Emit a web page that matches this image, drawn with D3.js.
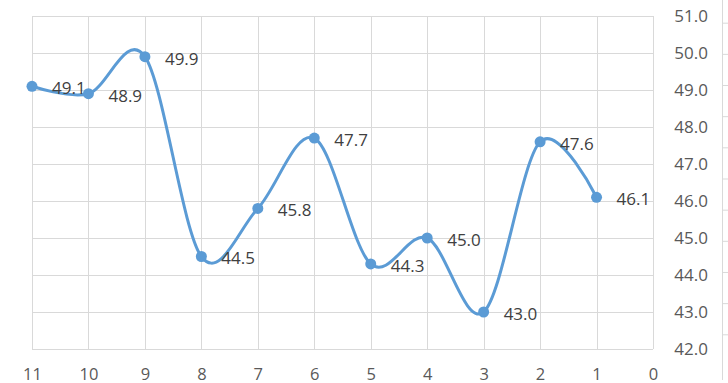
<!DOCTYPE html>
<html>
<head>
<meta charset="utf-8">
<script src="https://cdn.jsdelivr.net/npm/d3@7"></script>
<style>
  body { margin: 0; background: #fff; }
  svg { display: block; }
</style>
</head>
<body>
<svg id="chart"></svg>
<script>
// categories along the x axis (the last one carries no value)
const categories = ["11", "10", "9", "8", "7", "6", "5", "4", "3", "2", "1", "0"]
const values = [49.1, 48.9, 49.9, 44.5, 45.8, 47.7, 44.3, 45.0, 43.0, 47.6, 46.1]
const yTicks = [42, 43, 44, 45, 46, 47, 48, 49, 50, 51]
// ticks of the neighbouring (cut off) axis at the right edge
const sideTicks = [0, 1, 2, 3, 4, 5, 6, 7, 8, 9, 10]

const width = 728, height = 383
const margin = { top: 16, right: 75, bottom: 34, left: 32 }
const lineColor = "#5B9BD5"
const gridColor = "#d9d9d9"
const font = "'Open Sans', sans-serif"

const svg = d3.select("#chart")
    .attr("width", width)
    .attr("height", height)
    .attr("viewBox", `0 0 ${width} ${height}`)

const x = d3.scalePoint()
    .domain(categories)
    .range([margin.left, width - margin.right])
const y = d3.scaleLinear()
    .domain([42, 51])
    .range([height - margin.bottom, margin.top])

// gridlines
svg.append("g")
    .attr("stroke", gridColor)
    .attr("stroke-width", 1)
  .selectAll("line.v")
  .data(categories)
  .enter().append("line")
    .attr("x1", d => Math.round(x(d)) + 0.5)
    .attr("x2", d => Math.round(x(d)) + 0.5)
    .attr("y1", y(51))
    .attr("y2", y(42))

svg.append("g")
    .attr("stroke", gridColor)
    .attr("stroke-width", 1)
  .selectAll("line.h")
  .data(yTicks)
  .enter().append("line")
    .attr("x1", x("11"))
    .attr("x2", x("0"))
    .attr("y1", d => Math.round(y(d)) + 0.5)
    .attr("y2", d => Math.round(y(d)) + 0.5)

// right value axis (labels only)
svg.append("g")
    .attr("transform", `translate(${width - margin.right + 55},0)`)
    .call(d3.axisRight(y).tickValues(yTicks).tickFormat(d3.format(".1f")).tickSize(0))
    .call(g => g.select(".domain").remove())
    .call(g => g.selectAll("text")
        .attr("x", 0)
        .attr("text-anchor", "end")
        .attr("fill", "#595959")
        .style("font", `17px ${font}`))

// category axis (labels only)
svg.append("g")
    .attr("transform", `translate(0,${height - margin.bottom})`)
    .call(d3.axisBottom(x).tickSize(0))
    .call(g => g.select(".domain").remove())
    .call(g => g.selectAll("text")
        .attr("y", 31)
        .attr("dy", 0)
        .attr("fill", "#595959")
        .style("font", `16.5px ${font}`))

// neighbouring axis at the far right edge
const side = d3.scaleLinear().domain([0, 10]).range([22.7, 334.3])
svg.append("g")
    .attr("transform", "translate(722.5,0)")
    .call(d3.axisRight(side).tickValues(sideTicks).tickSize(6).tickFormat(""))
    .call(g => g.select(".domain").attr("d", `M0,0V${height - 3}`))
    .call(g => g.selectAll("line, path").attr("stroke", gridColor))

// the data line
const points = values.map((v, i) => ({ cat: categories[i], value: v }))

svg.append("path")
    .datum(points)
    .attr("fill", "none")
    .attr("stroke", lineColor)
    .attr("stroke-width", 3)
    .attr("stroke-linecap", "round")
    .attr("d", d3.line()
        .x(d => x(d.cat))
        .y(d => y(d.value))
        .curve(d3.curveCardinal.tension(0)))

svg.append("g")
    .attr("fill", lineColor)
  .selectAll("circle")
  .data(points)
  .enter().append("circle")
    .attr("cx", d => x(d.cat))
    .attr("cy", d => y(d.value))
    .attr("r", 5.5)

// data labels to the right of each point
svg.append("g")
    .attr("fill", "#404040")
    .style("font", `17px ${font}`)
  .selectAll("text")
  .data(points)
  .enter().append("text")
    .attr("x", d => x(d.cat) + 20)
    .attr("y", d => y(d.value) + 2)
    .attr("dy", "0.35em")
    .text(d => d3.format(".1f")(d.value))
</script>
</body>
</html>
